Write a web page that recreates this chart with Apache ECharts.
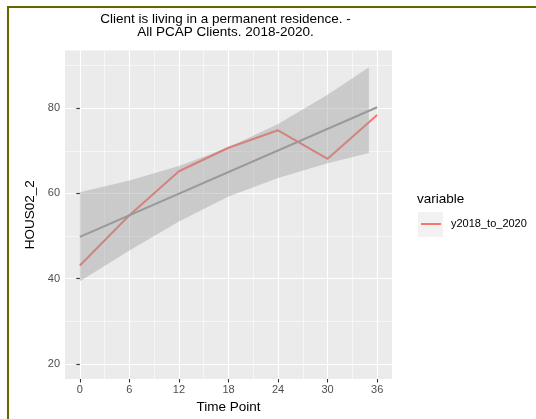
<!DOCTYPE html>
<html><head><meta charset="utf-8">
<script src="https://cdn.jsdelivr.net/npm/echarts@6/dist/echarts.min.js"></script>
<style>html,body{margin:0;padding:0;background:#fff;}#c{width:536px;height:419px;}</style>
</head><body><div id="c"></div>
<script>
const timePoints = [0, 6, 12, 18, 24, 30, 36];
const housValues = [43.1, 54.9, 65.2, 70.7, 74.8, 68.1, 78.4];
const fitTimes = [0, 36];
const fitValues = [49.8, 80.2];
const bandTimes = [0, 6, 12, 18, 24, 30, 35];
const bandUpper = [60.3, 63.0, 66.4, 70.8, 76.3, 83.1, 89.6];
const bandLower = [39.4, 46.6, 53.4, 59.3, 63.6, 67.1, 69.5];
const xMajorTicks = [0, 6, 12, 18, 24, 30, 36];
const xMinorTicks = [3, 9, 15, 21, 27, 33];
const yMajorTicks = [20, 40, 60, 80];
const yMinorTicks = [30, 50, 70, 90];
const seriesName = 'y2018_to_2020';

const FONT = 'Liberation Sans, Arial, sans-serif';
const chart = echarts.init(document.getElementById('c'), null, {renderer: 'canvas'});

const xRange = {min: -1.8, max: 37.8};
const yRange = {min: 16.5, max: 93.5};

chart.setOption({
  animation: false,
  textStyle: {fontFamily: FONT},
  title: [{
    text: 'Client is living in a permanent residence. -\nAll PCAP Clients. 2018-2020.',
    left: 225.5, top: 13.5, textAlign: 'center', padding: 0,
    textStyle: {fontSize: 13.5, fontWeight: 'normal', color: '#000', lineHeight: 12.5, fontFamily: FONT}
  }],
  grid: {left: 65, right: 144, top: 50.5, bottom: 40, show: true, backgroundColor: '#EBEBEB', borderWidth: 0},
  legend: {
    data: [seriesName], left: 421, top: 218.5, padding: 0, icon: 'rect', itemWidth: 20, itemHeight: 2,
    textStyle: {fontSize: 11, color: '#000', fontFamily: FONT, padding: [0, 0, 0, 5]}
  },
  graphic: [
    {type: 'rect', shape: {x: 418, y: 212, width: 25, height: 25}, style: {fill: '#F2F2F2'}, z: -1},
    {type: 'text', x: 417, y: 199.5, style: {text: 'variable', fontSize: 13.5, fill: '#000', fontFamily: FONT, textVerticalAlign: 'middle'}},
    {type: 'rect', shape: {x: 7, y: 6, width: 529, height: 2}, style: {fill: '#666600'}},
    {type: 'rect', shape: {x: 7, y: 6, width: 2, height: 413}, style: {fill: '#666600'}}
  ],
  xAxis: [{
    type: 'value', min: xRange.min, max: xRange.max, position: 'bottom',
    axisLine: {show: false},
    axisTick: {show: true, customValues: xMajorTicks, length: 3.5, lineStyle: {color: '#333', width: 1.1}},
    axisLabel: {customValues: xMajorTicks, color: '#4D4D4D', fontSize: 11, margin: 5},
    splitLine: {show: true, lineStyle: {color: '#fff', width: 1.1}},
    name: 'Time Point', nameLocation: 'middle', nameGap: 21,
    nameTextStyle: {fontSize: 13.5, color: '#000', fontFamily: FONT}
  }, {
    type: 'value', min: xRange.min, max: xRange.max, position: 'top',
    axisLine: {show: false},
    axisTick: {show: false, customValues: xMinorTicks},
    axisLabel: {show: false, customValues: xMinorTicks},
    splitLine: {show: true, lineStyle: {color: '#fff', width: 0.55}}
  }],
  yAxis: [{
    type: 'value', min: yRange.min, max: yRange.max, position: 'left',
    axisLine: {show: false},
    axisTick: {show: true, customValues: yMajorTicks, length: 3.5, lineStyle: {color: '#333', width: 1.1}},
    axisLabel: {customValues: yMajorTicks, color: '#4D4D4D', fontSize: 11, margin: 5},
    splitLine: {show: true, lineStyle: {color: '#fff', width: 1.1}},
    name: 'HOUS02_2', nameLocation: 'middle', nameGap: 25,
    nameTextStyle: {fontSize: 13.5, color: '#000', fontFamily: FONT}
  }, {
    type: 'value', min: yRange.min, max: yRange.max, position: 'right',
    axisLine: {show: false},
    axisTick: {show: false, customValues: yMinorTicks},
    axisLabel: {show: false, customValues: yMinorTicks},
    splitLine: {show: true, lineStyle: {color: '#fff', width: 0.55}}
  }],
  series: [{
    name: seriesName, type: 'line', xAxisIndex: 0, yAxisIndex: 0,
    data: timePoints.map((t, i) => [t, housValues[i]]),
    showSymbol: false, symbol: 'none', color: '#F8766D',
    lineStyle: {color: '#F8766D', width: 2}, z: 2
  }, {
    name: 'band', type: 'custom', xAxisIndex: 0, yAxisIndex: 0, silent: true, z: 3,
    data: bandTimes.map((t, i) => [t, bandLower[i], bandUpper[i]]),
    encode: {x: 0, y: [1, 2]},
    renderItem: function (params, api) {
      if (params.dataIndex !== 0) return null;
      const pts = [];
      for (let i = 0; i < bandTimes.length; i++) pts.push(api.coord([bandTimes[i], bandUpper[i]]));
      for (let i = bandTimes.length - 1; i >= 0; i--) pts.push(api.coord([bandTimes[i], bandLower[i]]));
      return {type: 'polygon', shape: {points: pts}, style: {fill: 'rgba(153,153,153,0.4)'}};
    }
  }, {
    name: 'fit', type: 'line', xAxisIndex: 0, yAxisIndex: 0,
    data: fitTimes.map((t, i) => [t, fitValues[i]]),
    showSymbol: false, symbol: 'none', color: '#999999',
    lineStyle: {color: '#999999', width: 2}, z: 4
  }]
});
</script></body></html>
